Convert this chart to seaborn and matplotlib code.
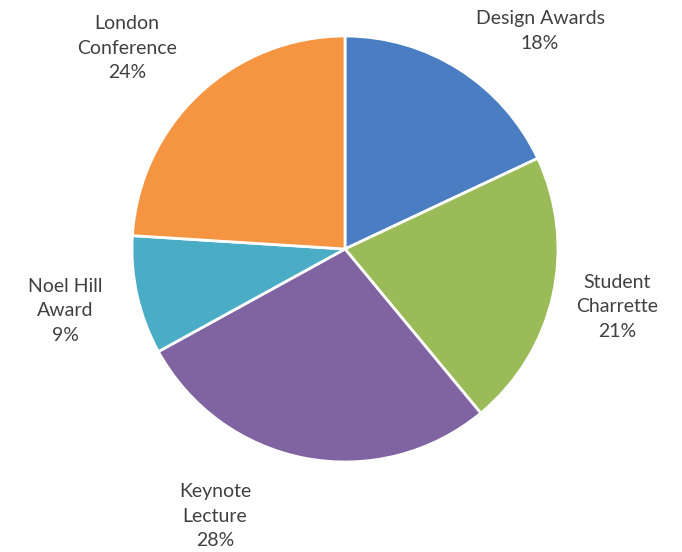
import matplotlib
matplotlib.use("Agg")
import matplotlib.pyplot as plt
import seaborn as sns

# slices, clockwise from 12 o'clock
categories = ["Design Awards", "Student\nCharrette", "Keynote\nLecture", "Noel Hill\nAward", "London\nConference"]
shares = [18, 21, 28, 9, 24]
colors = ["#4a7dc2", "#9bbb59", "#8064a2", "#4bacc6", "#f59441"]

# label anchor spots (pixels, y from top) as Excel laid them out
label_pos = [(540, 31), (617, 307), (215, 516), (65, 311), (127, 48)]

W, H = 682, 552

sns.set_theme(style="white")
plt.rcParams["font.family"] = ["Lato", "DejaVu Sans"]

fig = plt.figure(figsize=(W / 100, H / 100), dpi=100)
ax = fig.add_axes([0, 0, 1, 1])

palette = sns.color_palette(colors)
ax.pie(shares, colors=palette, startangle=90, counterclock=False,
       center=(345, H - 249), radius=213,
       wedgeprops=dict(edgecolor="white", linewidth=2))

for name, val, (x, y) in zip(categories, shares, label_pos):
    ax.text(x, H - y, f"{name}\n{val}%", ha="center", va="center",
            fontsize=14, color="#404040", linespacing=1.55)

# pie() resets the limits, so fix them afterwards
ax.set_xlim(0, W)
ax.set_ylim(0, H)
ax.set_aspect("equal")
ax.axis("off")

fig.savefig("out.png", dpi=100, facecolor="white")
